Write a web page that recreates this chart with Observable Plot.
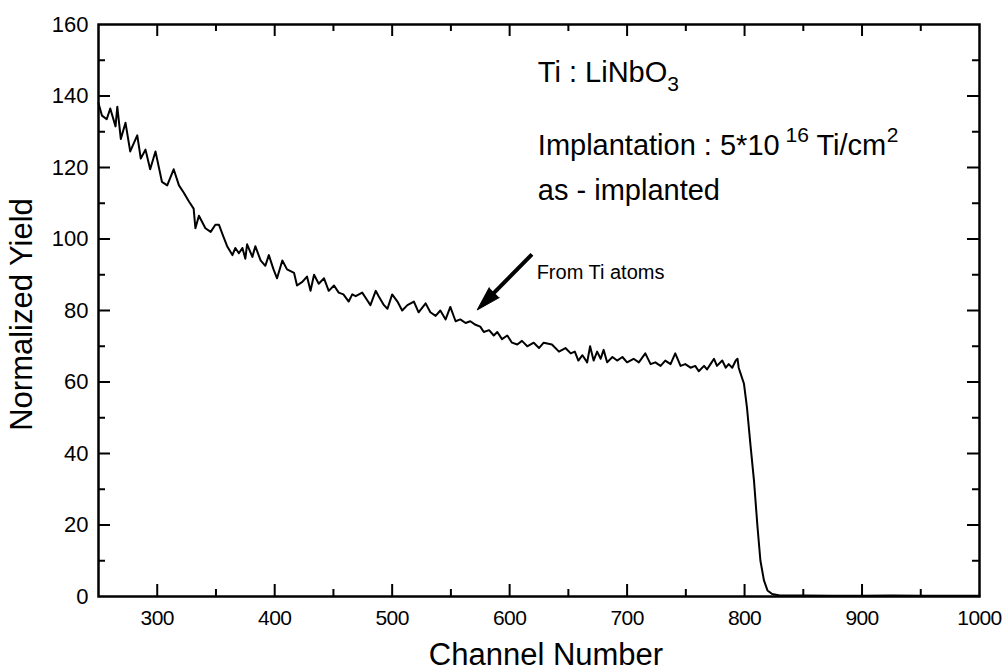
<!DOCTYPE html>
<html>
<head>
<meta charset="utf-8">
<script src="https://cdn.jsdelivr.net/npm/d3@7"></script>
<script src="https://cdn.jsdelivr.net/npm/@observablehq/plot@0.6"></script>
<style>
  body { margin: 0; background: #fff; }
  #chart svg { display: block; }
  #chart g[aria-label="x-axis tick label"] text { letter-spacing: -0.6px; }
</style>
</head>
<body>
<div id="chart"></div>
<script>
// RBS spectrum of Ti-implanted LiNbO3 (as-implanted)
const channel = [
  250, 253, 257, 260, 264.5, 266, 269, 273, 277, 283, 286, 290, 294, 298.5, 304, 308.5,
  314, 318.5, 322.5, 327, 331, 332.5, 335.5, 341, 345.5, 349.5, 352.5, 356.5, 359.5, 364,
  366.5, 369.5, 372.5, 375, 376.5, 381, 383.5, 388, 392, 395, 399, 402, 406.5, 410.5,
  416.5, 419, 423.5, 427.5, 430.5, 433.5, 437.5, 442, 446, 450.5, 454.5, 458.5, 463, 466,
  469, 474.5, 478.5, 481.5, 486, 488.5, 493, 496, 500, 504.5, 508.5, 513, 518.5, 522.5,
  528.5, 532.5, 537, 541, 545.5, 549.5, 554, 558, 562.5, 566.5, 571, 575, 578, 582.5,
  586.5, 589.5, 593.5, 598, 602, 606.5, 610.5, 615, 620.5, 625, 629, 636, 642, 647.5,
  652, 655.5, 658.5, 662, 666, 668.5, 671.5, 674.5, 677.5, 680, 683, 687.5, 691.5, 696,
  700, 705.5, 710, 715.5, 720, 724, 728.5, 732.5, 737, 741, 745.5, 749.5, 754, 758,
  761, 765.5, 768, 771, 774, 776.5, 781, 784, 786.5, 789.5, 792.5, 794, 795, 796.5,
  799.5, 802, 805, 808, 811, 813.5, 816.5, 819.5, 823.5, 830, 850, 875, 900, 925, 950,
  975, 1000
];
const yieldValues = [
  138, 134.5, 133.5, 136.5, 131.5, 137, 128, 132.5, 124.5, 129, 122.5, 125, 119.5, 124.5, 116, 115,
  119.5, 115, 113, 110.5, 108.5, 103, 106.5, 103, 102, 104, 104, 100.5, 98, 95.5,
  97.5, 96, 97.5, 94.5, 98.5, 95, 98, 94, 92.5, 95.5, 91.5, 89, 94, 91.5,
  90.5, 87, 88, 89.5, 85.5, 90, 87.5, 89, 85.5, 87, 85, 84.5, 82.5, 84.5,
  84, 85, 83, 81.5, 85.5, 84, 81.5, 80.5, 84.5, 82.5, 80, 81.5, 82.5, 79.5,
  82, 79.5, 78.5, 80, 77.5, 81, 77, 77.5, 76.5, 77, 76, 75.5, 74, 74.5,
  73, 74, 72, 73, 71, 70.5, 71.5, 70, 71, 69.5, 71, 70.5, 68.5, 69.5,
  68, 68.5, 66, 67.5, 65.5, 70, 66, 68.5, 66.5, 69, 65.5, 67, 66, 67,
  65.5, 66.5, 65.5, 68, 65, 65.5, 64.5, 66, 65, 68, 64.5, 65, 64, 64.5,
  63, 64.5, 63.5, 65, 66.5, 64.5, 66, 64, 65, 64, 66, 66.5, 64, 62.5,
  59.5, 53, 42.5, 32.5, 19.5, 10, 4.5, 1.7, 0.7, 0.3, 0.3, 0.2, 0.2, 0.3, 0.2,
  0.2, 0.2
];

const xLabelTicks = [300, 400, 500, 600, 700, 800, 900, 1000];
const yLabelTicks = [0, 20, 40, 60, 80, 100, 120, 140, 160];
const xMajor = [300, 400, 500, 600, 700, 800, 900];
const xMinor = [350, 450, 550, 650, 750, 850, 950];
const yMajor = [20, 40, 60, 80, 100, 120, 140];
const yMinor = [10, 30, 50, 70, 90, 110, 130, 150];

const spectrum = channel.map((c, i) => ({channel: c, value: yieldValues[i]}));

// layout
const W = 1004, H = 670;
const margin = {top: 24, right: 25, bottom: 74, left: 98};
const innerW = W - margin.left - margin.right;
const innerH = H - margin.top - margin.bottom;
const xDomain = [250, 1000], yDomain = [0, 160];
const FONT = "'Liberation Sans', Arial, Helvetica, sans-serif";

// text measuring for sub/superscript placement
const ctx = document.createElement("canvas").getContext("2d");
function textWidth(s, size) {
  ctx.font = `${size}px ${FONT}`;
  return ctx.measureText(s).width;
}
// a line of annotation: pieces of [text, kind] where kind is "n", "sub", "sup"
function richLine(pieces, x, y, size) {
  const out = [];
  let dx = 0;
  for (const [t, kind] of pieces) {
    const s = kind === "n" ? size : Math.round(size * 0.72);
    const dy = kind === "sub" ? size * 0.3 : kind === "sup" ? -size * 0.45 : 0;
    out.push({x, y, t, dx, dy, s});
    dx += textWidth(t, s);
  }
  return out;
}

const annoSize = 29;
const annoX = 624;
const annotation = [
  ...richLine([["Ti : LiNbO", "n"], ["3", "sub"]], annoX, 143.8, annoSize),
  ...richLine([["Implantation : 5*10", "n"], [" 16", "sup"], [" Ti/cm", "n"], ["2", "sup"]], annoX, 123.5, annoSize),
  ...richLine([["as - implanted", "n"]], annoX, 111, annoSize)
];

// arrow pointing at the spectrum
const arrowFrom = {channel: 619, value: 95.7};
const arrowTip = {channel: 572.5, value: 80.2};
const kx = innerW / (xDomain[1] - xDomain[0]);
const ky = innerH / (yDomain[1] - yDomain[0]);
const adx = (arrowTip.channel - arrowFrom.channel) * kx;
const ady = -(arrowTip.value - arrowFrom.value) * ky;
const arrowAngle = Math.atan2(adx, -ady) * 180 / Math.PI;
const shaftEnd = {
  channel: arrowTip.channel + 0.2 * (arrowFrom.channel - arrowTip.channel),
  value: arrowTip.value + 0.2 * (arrowFrom.value - arrowTip.value)
};

const textMarks = [];
for (const d of annotation) {
  textMarks.push(Plot.text([d], {
    x: "x", y: "y", text: "t", dx: d.dx, dy: d.dy, fontSize: d.s,
    textAnchor: "start", lineAnchor: "bottom", fill: "black"
  }));
}

const chart = Plot.plot({
  width: W,
  height: H,
  marginTop: margin.top,
  marginRight: margin.right,
  marginBottom: margin.bottom,
  marginLeft: margin.left,
  style: {fontFamily: FONT, color: "black", background: "white", overflow: "visible"},
  x: {domain: xDomain},
  y: {domain: yDomain},
  marks: [
    // spectrum
    Plot.line(spectrum, {x: "channel", y: "value", stroke: "black", strokeWidth: 2, strokeLinejoin: "round"}),
    // inward ticks on all four sides
    Plot.tickX(xMajor, {x: d => d, insetTop: innerH - 12, strokeWidth: 2}),
    Plot.tickX(xMinor, {x: d => d, insetTop: innerH - 7, strokeWidth: 2}),
    Plot.tickX(xMajor, {x: d => d, insetBottom: innerH - 12, strokeWidth: 2}),
    Plot.tickX(xMinor, {x: d => d, insetBottom: innerH - 7, strokeWidth: 2}),
    Plot.tickY(yMajor, {y: d => d, insetRight: innerW - 12, strokeWidth: 2}),
    Plot.tickY(yMinor, {y: d => d, insetRight: innerW - 7, strokeWidth: 2}),
    Plot.tickY(yMajor, {y: d => d, insetLeft: innerW - 12, strokeWidth: 2}),
    Plot.tickY(yMinor, {y: d => d, insetLeft: innerW - 7, strokeWidth: 2}),
    Plot.frame({stroke: "black", strokeWidth: 2.5}),
    // tick labels
    Plot.axisX(xLabelTicks, {tickSize: 0, tickPadding: 14, fontSize: 21, label: null, tickFormat: d => String(d)}),
    Plot.axisY(yLabelTicks, {tickSize: 0, tickPadding: 10, fontSize: 22, label: null, tickFormat: d => String(d)}),
    // axis titles
    Plot.text(["Channel Number"], {frameAnchor: "bottom", dy: 68, dx: 7, fontSize: 31, textAnchor: "middle", lineAnchor: "bottom", fill: "black"}),
    Plot.text(["Normalized Yield"], {frameAnchor: "left", dx: -76, dy: 4, rotate: -90, fontSize: 31, textAnchor: "middle", lineAnchor: "middle", fill: "black"}),
    // annotations
    ...textMarks,
    Plot.link([{a: arrowFrom, b: shaftEnd}], {
      x1: d => d.a.channel, y1: d => d.a.value, x2: d => d.b.channel, y2: d => d.b.value,
      stroke: "black", strokeWidth: 4
    }),
    Plot.vector([arrowTip], {
      x: "channel", y: "value", length: 24, r: 7, rotate: arrowAngle, anchor: "end",
      shape: "spike", fill: "black", stroke: "black", strokeWidth: 1
    }),
    Plot.text(["From Ti atoms"], {x: 623, y: 88.8, fontSize: 20, textAnchor: "start", lineAnchor: "bottom", fill: "black"})
  ]
});

document.getElementById("chart").append(chart);
</script>
</body>
</html>
